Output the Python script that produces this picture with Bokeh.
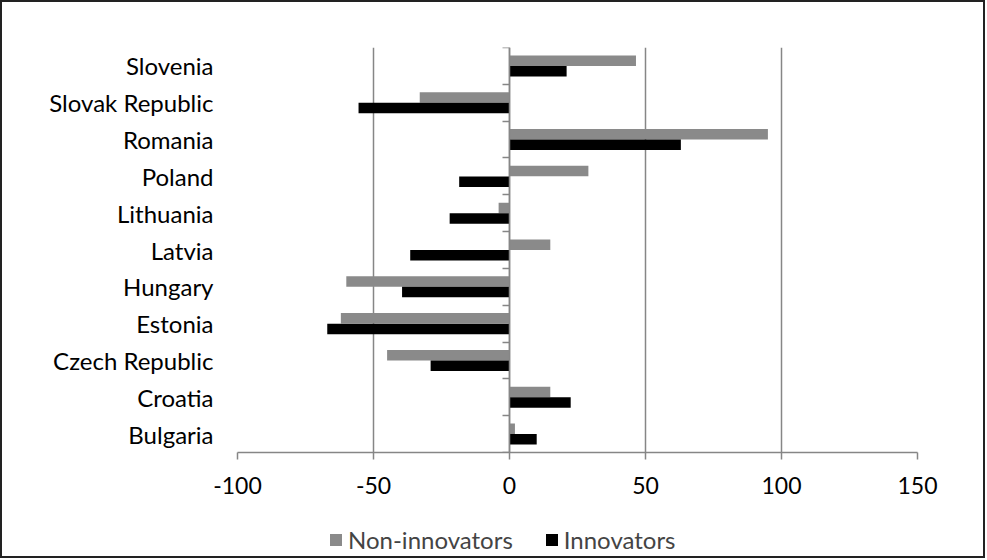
from bokeh.plotting import figure
from bokeh.layouts import column
from bokeh.models import (Range1d, LinearAxis, FixedTicker, Legend,
                          LegendItem, ColumnDataSource)
from bokeh.transform import dodge
from bokeh.embed import file_html
from bokeh.resources import INLINE

countries = ["Bulgaria", "Croatia", "Czech Republic", "Estonia", "Hungary", "Latvia",
             "Lithuania", "Poland", "Romania", "Slovak Republic", "Slovenia"]
non_innovators = [2, 15, -45, -62, -60, 15, -4, 29, 95, -33, 46.5]
innovators = [10, 22.5, -29, -67, -39.5, -36.5, -22, -18.5, 63, -55.5, 21]
x_ticks = [-100, -50, 0, 50, 100, 150]
x_tick_labels = ["-100", "-50", "0", "50", "100", "150"]

FONT = "Lato"
GRAY = "#8a8a8a"
AXIS = "#868686"

n = len(countries)
pos = [i + 0.5 for i in range(n)]
src = ColumnDataSource(dict(pos=pos, country=countries, non=non_innovators, inn=innovators))

p = figure(y_range=Range1d(0, n), x_range=Range1d(-100, 150),
           width=981, height=506, output_backend="svg", toolbar_location=None,
           min_border_left=235, min_border_right=66, min_border_top=45, min_border_bottom=56)

bar_kw = dict(left=0, height=0.285, line_color=None, source=src)
p.hbar(y=dodge("pos", 0.143), right="non", fill_color=GRAY, **bar_kw)
p.hbar(y=dodge("pos", -0.143), right="inn", fill_color="black", **bar_kw)

# category labels
p.yaxis.ticker = FixedTicker(ticks=pos)
p.yaxis.major_label_overrides = {pp: c for pp, c in zip(pos, countries)}
p.yaxis.axis_line_color = None
p.yaxis.major_tick_line_color = None
p.yaxis.major_tick_out = 0
p.yaxis.major_tick_in = 0
p.yaxis.minor_tick_line_color = None
p.yaxis.major_label_standoff = 24
p.yaxis.major_label_text_font = FONT
p.yaxis.major_label_text_font_size = "24px"
p.yaxis.major_label_text_color = "black"

# zero axis with boundary ticks
zax = LinearAxis(ticker=FixedTicker(ticks=list(range(n + 1))),
                 fixed_location=0, axis_line_color=AXIS, axis_line_width=1.5,
                 major_tick_line_color=AXIS, major_tick_line_width=1.5,
                 major_tick_out=7, major_tick_in=0, minor_tick_line_color=None,
                 major_label_text_alpha=0, major_label_text_font_size="1px")
p.add_layout(zax, "left")

p.xaxis.ticker = FixedTicker(ticks=x_ticks)
p.xaxis.major_label_overrides = {t: s for t, s in zip(x_ticks, x_tick_labels)}
p.xaxis.axis_line_color = AXIS
p.xaxis.axis_line_width = 1.5
p.xaxis.major_tick_line_color = AXIS
p.xaxis.major_tick_line_width = 1.5
p.xaxis.major_tick_out = 7
p.xaxis.major_tick_in = 0
p.xaxis.minor_tick_line_color = None
p.xaxis.major_label_standoff = 17
p.xaxis.major_label_text_font = FONT
p.xaxis.major_label_text_font_size = "23px"
p.xaxis.major_label_text_color = "black"

p.xgrid.ticker = FixedTicker(ticks=x_ticks)
p.xgrid.grid_line_color = AXIS
p.xgrid.grid_line_width = 1.5
p.ygrid.grid_line_color = None
p.outline_line_color = None

# legend strip
lf = figure(width=981, height=48, output_backend="svg", toolbar_location=None,
            x_range=p.x_range, y_range=p.y_range, x_axis_type=None, y_axis_type=None,
            min_border=0)
lf.outline_line_color = None
lf.xgrid.visible = False
lf.ygrid.visible = False
l_non = lf.hbar(y=dodge("pos", 0.143), right="non", fill_color=GRAY, visible=False, **bar_kw)
l_inn = lf.hbar(y=dodge("pos", -0.143), right="inn", fill_color="black", visible=False, **bar_kw)

legend = Legend(items=[LegendItem(label="Non-innovators", renderers=[l_non]),
                       LegendItem(label="Innovators", renderers=[l_inn])],
                location=(91, 2), orientation="horizontal", border_line_color=None,
                background_fill_alpha=0, padding=0, margin=0, spacing=31, label_standoff=5,
                glyph_width=15, glyph_height=15, label_text_font=FONT,
                label_text_font_size="24px")
lf.add_layout(legend, "center")

layout = column(p, lf, spacing=0)
layout.styles = {"border": "2px solid #222"}

open("out.html", "w").write(file_html(layout, INLINE))
